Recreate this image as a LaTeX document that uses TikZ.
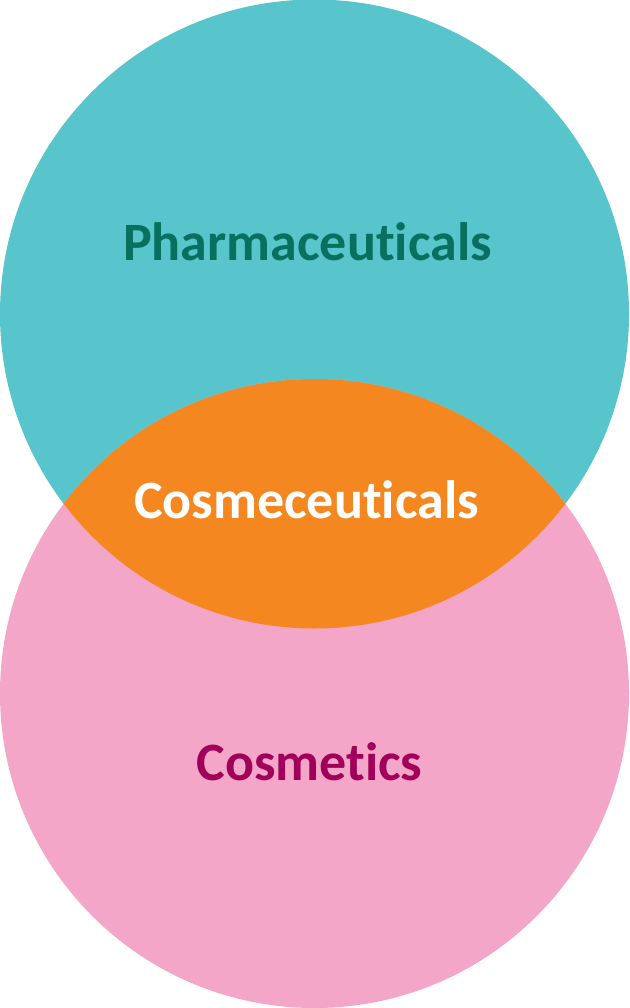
\documentclass[tikz,border=0pt]{standalone}
\usepackage{fontspec}
\setmainfont{Carlito}[Ligatures=NoCommon]
\definecolor{pharmteal}{HTML}{58C4CB}
\definecolor{cosmpink}{HTML}{F4A6C9}
\definecolor{cosmorange}{HTML}{F58720}
\definecolor{pharmtext}{HTML}{08705E}
\definecolor{cosmtext}{HTML}{A1005A}
\tikzstyle{setlabel}=[inner sep=0pt,font=\fontsize{54}{58}\selectfont\bfseries]

\begin{document}
\begin{tikzpicture}[x=1pt,y=-1pt]
    \newcommand{\rad}{314.5pt}
    \useasboundingbox (0,0) rectangle (629,1008);
    \coordinate (top) at (314.5,314);
    \coordinate (bot) at (314.5,693.5);
    \fill[pharmteal] (top) circle[radius=\rad];
    \fill[cosmpink] (bot) circle[radius=\rad];
    \begin{scope}
      \clip (top) circle[radius=\rad];
      \fill[cosmorange] (bot) circle[radius=\rad];
    \end{scope}
    \node (pharma) at (307.5,242) [setlabel,text=pharmtext]{Pharmaceuticals};
    \node (cosmeceu) at (306.5,500) [setlabel,text=white]{Cosmeceuticals};
    \node (cosmet) at (309.5,762) [setlabel,text=cosmtext]{Cosmetics};
  \end{tikzpicture}
\end{document}
